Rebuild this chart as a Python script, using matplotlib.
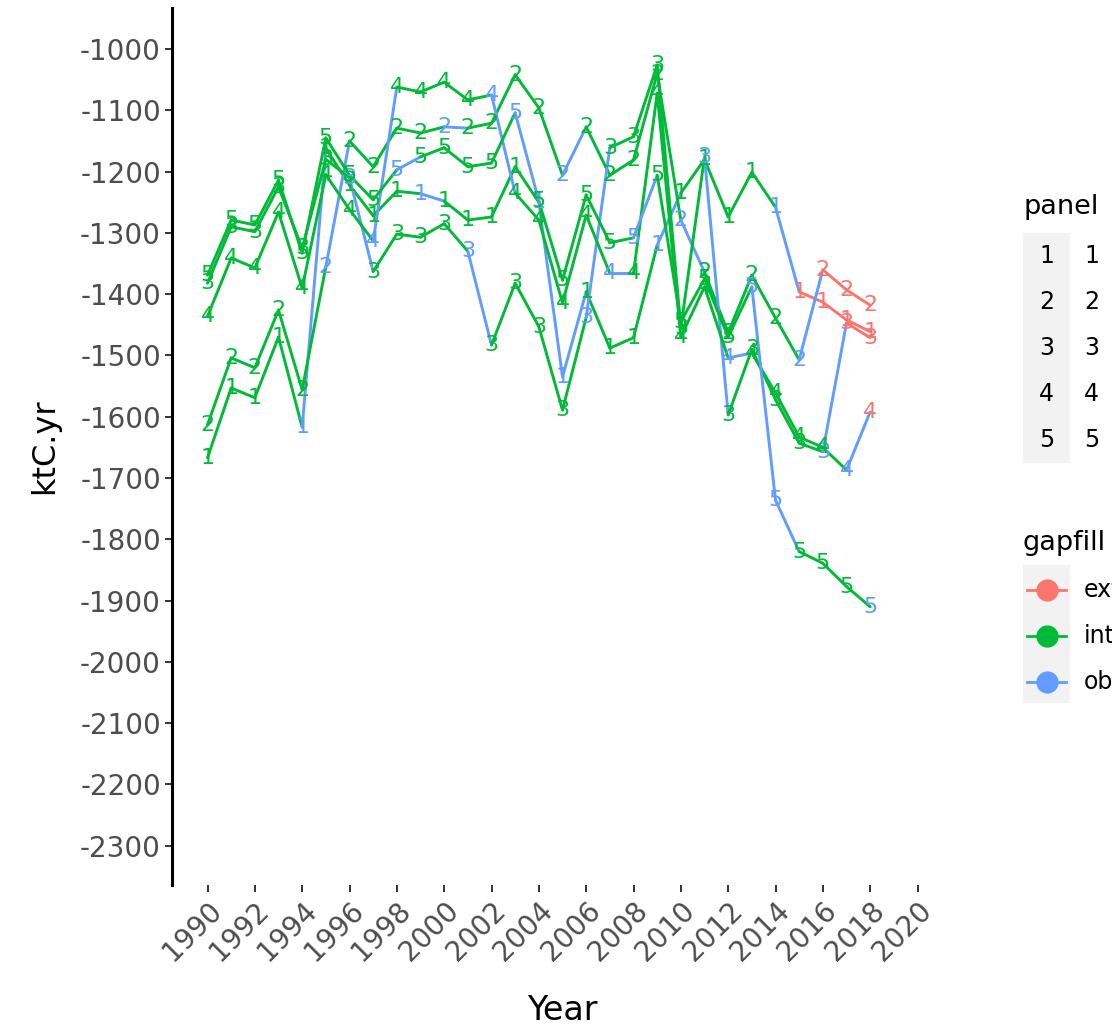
import matplotlib

matplotlib.use("Agg")
import matplotlib.pyplot as plt
from matplotlib.lines import Line2D
from matplotlib.patches import Rectangle
import numpy as np

plt.rcParams["font.family"] = ["DejaVu Sans"]
plt.rcParams["axes.unicode_minus"] = False

# ---------------------------------------------------------------------------
# data: one row per panel, values in ktC.yr, gapfill flag per year
# ---------------------------------------------------------------------------
years = list(range(1990, 2019))

panel_1 = [-1667, -1553, -1569, -1470, -1617, -1162, -1222, -1272, -1232, -1236,
           -1248, -1279, -1274, -1192, -1250, -1535, -1396, -1488, -1471, -1320,
           -1235, -1180, -1274, -1201, -1258, -1396, -1413, -1442, -1461]
panel_2 = [-1613, -1504, -1520, -1426, -1556, -1355, -1150, -1192, -1129, -1137,
           -1127, -1129, -1121, -1042, -1096, -1206, -1127, -1206, -1181, -1040,
           -1279, -1364, -1463, -1369, -1439, -1507, -1360, -1393, -1418]
panel_3 = [-1382, -1290, -1298, -1225, -1325, -1180, -1210, -1363, -1302, -1307,
           -1285, -1330, -1483, -1382, -1453, -1589, -1438, -1161, -1143, -1026,
           -1455, -1176, -1597, -1490, -1572, -1643, -1657, -1447, -1471]
panel_4 = [-1436, -1341, -1357, -1266, -1390, -1205, -1262, -1313, -1062, -1070,
           -1054, -1083, -1075, -1235, -1279, -1414, -1271, -1366, -1366, -1072,
           -1470, -1388, -1504, -1496, -1561, -1633, -1650, -1687, -1592]
panel_5 = [-1369, -1279, -1287, -1214, -1333, -1145, -1206, -1246, -1197, -1176,
           -1161, -1192, -1186, -1104, -1248, -1377, -1238, -1316, -1308, -1206,
           -1445, -1375, -1470, -1388, -1736, -1820, -1839, -1877, -1910]

# e = extrapolated, i = interpolated, o = observed
gapfill_1 = "iiiioiiiioiiiiooiiioiiiioeeee"
gapfill_2 = "iiiiioiiiioiiiioiiiioiiiioeee"
gapfill_3 = "iiiiiioiiiioiiiioiiiioiiiioee"
gapfill_4 = "iiiiiiioiiiioiiiioiiiioiiiioe"
gapfill_5 = "iiiiiiiioiiiioiiiioiiiiooiiio"

panels = ["1", "2", "3", "4", "5"]
values = [panel_1, panel_2, panel_3, panel_4, panel_5]
gapfills = [gapfill_1, gapfill_2, gapfill_3, gapfill_4, gapfill_5]

gap_names = ["extrapolated", "interpolated", "observed"]
gap_colors = {"e": "#F8766D", "i": "#00BA38", "o": "#619CFF"}

# ---------------------------------------------------------------------------
W, H = 1112, 1032
fig = plt.figure(figsize=(W / 100, H / 100), dpi=100)
ax = fig.add_axes([172 / W, 1 - 885 / H, (953 - 172) / W, (885 - 8) / H])


def fx(px):
    return px / W


def fy(py):
    return 1 - py / H


for lab, vals, flags in zip(panels, values, gapfills):
    # segments take the colour of the point they start from
    for i in range(len(years) - 1):
        ax.plot(years[i:i + 2], vals[i:i + 2], color=gap_colors[flags[i]],
                lw=2.1, solid_capstyle="round", zorder=2)
    for yr, v, f in zip(years, vals, flags):
        ax.text(yr, v, lab, color=gap_colors[f], fontsize=16,
                ha="center", va="center", zorder=3)

ax.set_xlim(1988.5, 2021.5)
ax.set_ylim(-2364, -933)
ax.set_xticks(np.arange(1990, 2021, 2))
ax.set_yticks(np.arange(-2300, -999, 100))
ax.tick_params(axis="both", colors="#333333", labelcolor="#4D4D4D",
               labelsize=20, length=5, width=1.4)
ax.tick_params(axis="y", pad=3)
plt.setp(ax.get_xticklabels(), rotation=45, ha="right", va="top",
         rotation_mode="anchor")

for side in ["top", "right", "bottom"]:
    ax.spines[side].set_visible(False)
ax.spines["left"].set_linewidth(2.2)
ax.patch.set_visible(False)

ax.set_xlabel("Year", fontsize=24, labelpad=20)
ax.set_ylabel("ktC.yr", fontsize=23, labelpad=14)

# ---------------------------------------------------------------------------
# legends
# ---------------------------------------------------------------------------
key_x0, key_w, key_h = 1023, 47, 46

fig.text(fx(key_x0), fy(207), "panel", fontsize=19.5, ha="left", va="center")
fig.add_artist(Rectangle((fx(key_x0), fy(233 + 5 * key_h)), key_w / W,
                         5 * key_h / H, transform=fig.transFigure,
                         facecolor="#F2F2F2", edgecolor="none"))
for k, lab in enumerate(panels):
    cy = 256 + k * key_h
    fig.text(fx(key_x0 + key_w / 2), fy(cy), lab, fontsize=17,
             ha="center", va="center")
    fig.text(fx(1084), fy(cy), lab, fontsize=17, ha="left", va="center")

fig.text(fx(key_x0), fy(543), "gapfill", fontsize=19.5, ha="left", va="center")
fig.add_artist(Rectangle((fx(key_x0), fy(565 + 3 * key_h)), key_w / W,
                         3 * key_h / H, transform=fig.transFigure,
                         facecolor="#F2F2F2", edgecolor="none"))
for k, (name, c) in enumerate(zip(gap_names, gap_colors.values())):
    cy = 590 + k * key_h
    fig.add_artist(Line2D([fx(key_x0 + 4), fx(key_x0 + key_w - 4)],
                          [fy(cy), fy(cy)], color=c, lw=2.0,
                          transform=fig.transFigure))
    fig.add_artist(Line2D([fx(key_x0 + key_w / 2)], [fy(cy)], marker="o",
                          markersize=15, color=c, transform=fig.transFigure))
    fig.text(fx(1084), fy(cy), name, fontsize=17, ha="left", va="center")

fig.savefig("out.png", dpi=100)
